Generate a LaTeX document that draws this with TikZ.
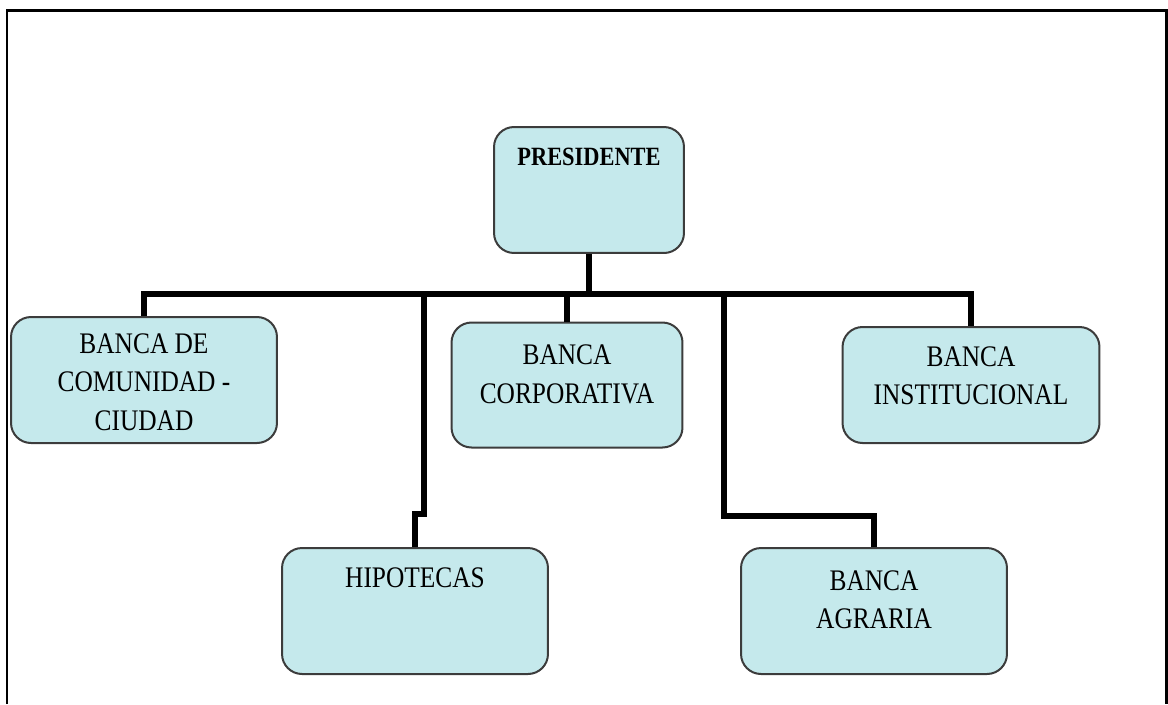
\documentclass[tikz,border=0pt]{standalone}
\usepackage{fontspec}
\setmainfont[FakeStretch=0.85]{Liberation Serif}
\usepackage{tikz}
\usetikzlibrary{positioning}
\definecolor{celeste}{RGB}{197,233,236}
\definecolor{borde}{RGB}{60,60,60}
\tikzset{
	caja/.style = {
		draw = borde,
		line width = 0.04cm,
		fill = celeste,
		rounded corners = 0.4cm,
		minimum height = 2.52cm,
		inner sep = 0pt
	},
	rama/.style = {
		line width = 0.11cm,
		black
	},
	marco/.style = {
		line width = 0.06cm,
		black
	},
	rotulo/.style = {
		inner sep = 0pt,
		align = center,
		font = \fontsize{17pt}{22pt}\selectfont
	}
}

\begin{document}
\begin{tikzpicture}[x=0.02cm, y=-0.02cm]
\useasboundingbox (0,0) rectangle (1168,704);
\draw[marco] (7,704) -- (7,10) -- (1166,10) -- (1166,704);

\node[caja, minimum width=3.8cm] (pres) at (589,190) {};
\node[caja, minimum width=5.32cm] (comunidad) at (144,380) {};
\node[caja, minimum width=4.62cm, minimum height=2.5cm] (corporativa) at (567,385) {};
\node[caja, minimum width=5.14cm, minimum height=2.32cm] (institucional) at (971,385) {};
\node[caja, minimum width=5.32cm] (hipotecas) at (415,611) {};
\node[caja, minimum width=5.32cm] (agraria) at (874,611) {};

\node[rotulo, below=0.44cm of pres.north, font=\fontsize{15pt}{18pt}\selectfont\bfseries] (tpres) {PRESIDENTE};
\node[rotulo, below=0.34cm of comunidad.north] (tcomunidad) {BANCA DE\\COMUNIDAD -\\CIUDAD};
\node[rotulo, below=0.46cm of corporativa.north] (tcorporativa) {BANCA\\CORPORATIVA};
\node[rotulo, below=0.4cm of institucional.north] (tinstitucional) {BANCA\\INSTITUCIONAL};
\node[rotulo, below=0.4cm of hipotecas.north] (thipotecas) {HIPOTECAS};
\node[rotulo, below=0.46cm of agraria.north] (tagraria) {BANCA\\AGRARIA};

\coordinate (barra) at (589,294);
\draw[rama] (pres.south) -- (barra);
\draw[rama] (comunidad.north) |- (barra) -| (institucional.north);
\draw[rama] (corporativa.north) -- (corporativa.north |- barra);
\draw[rama] (hipotecas.north) -- ++(0,-33) -- ++(9,0) |- (barra);
\draw[rama] (agraria.north) -- ++(0,-31) -- ++(-150,0) |- (barra);
\end{tikzpicture}
\end{document}
